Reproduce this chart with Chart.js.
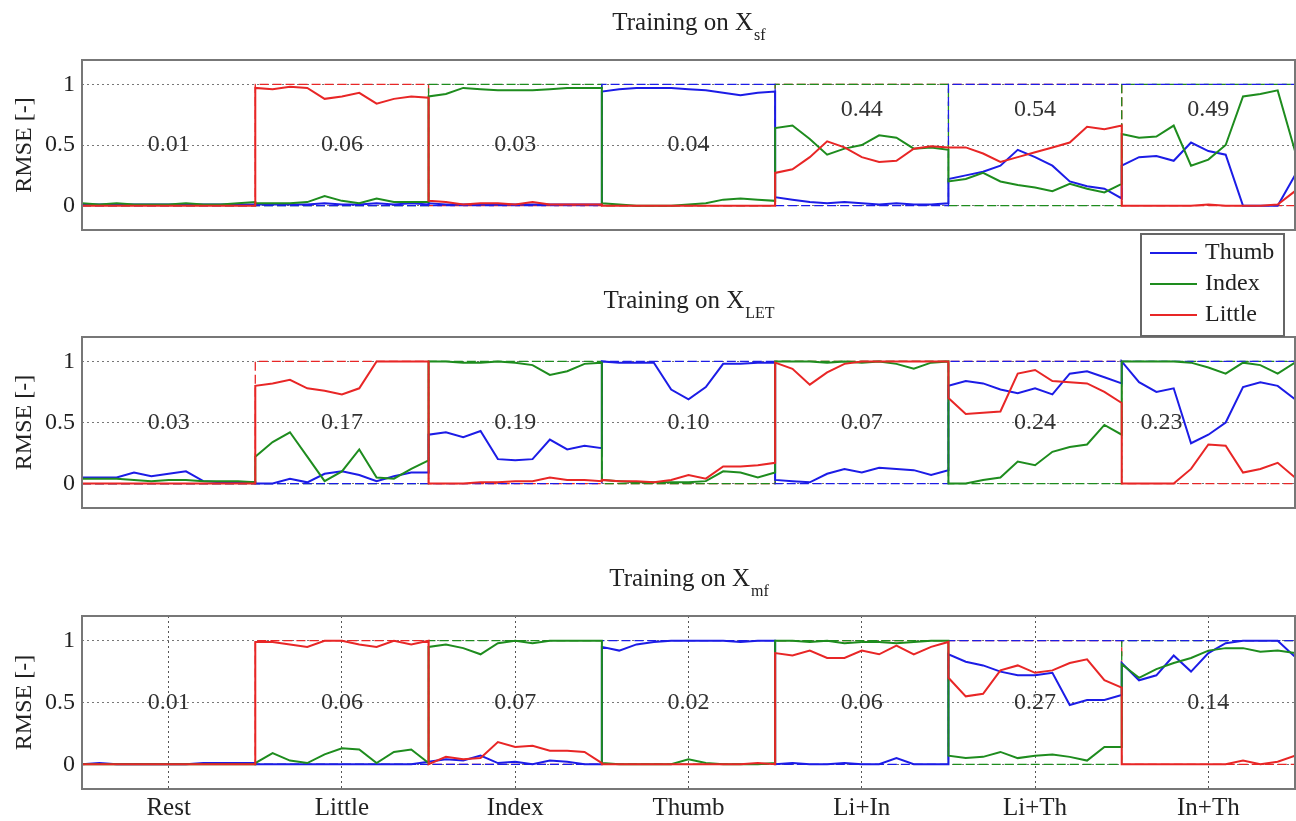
<!DOCTYPE html>
<html>
<head>
<meta charset="utf-8">
<script src="https://cdn.jsdelivr.net/npm/chart.js@4.4.1/dist/chart.umd.min.js"></script>
<style>
  body { margin: 0; background: #fff; }
  #wrap { position: relative; width: 1296px; height: 821px; }
  canvas { position: absolute; left: 0; }
</style>
</head>
<body>
<div id="wrap">
  <canvas id="sfChart" width="1296" height="234" style="top:0px"></canvas>
  <canvas id="letChart" width="1296" height="290" style="top:230px"></canvas>
  <canvas id="mfChart" width="1296" height="281" style="top:540px"></canvas>
</div>
<script>
const segments = ['Rest', 'Little', 'Index', 'Thumb', 'Li+In', 'Li+Th', 'In+Th'];

// reference (1 = finger active in that movement)
const targetThumb  = [0, 0, 0, 1, 0, 1, 1];
const targetIndex  = [0, 0, 1, 0, 1, 0, 1];
const targetLittle = [0, 1, 0, 0, 1, 1, 0];

// Training on X_sf
const sfRmse = ['0.01', '0.06', '0.03', '0.04', '0.44', '0.54', '0.49'];
const sfThumb = [
  [0.01, 0.01, 0.01, 0.01, 0.01, 0.01, 0.01, 0.01, 0.01, 0.01, 0.01],
  [0.01, 0.01, 0.01, 0.01, 0.02, 0.01, 0.01, 0.02, 0.01, 0.02, 0.01],
  [0.02, 0.01, 0.01, 0.01, 0.01, 0.01, 0.01, 0.01, 0.01, 0.01, 0.01],
  [0.94, 0.96, 0.97, 0.97, 0.97, 0.96, 0.95, 0.93, 0.91, 0.93, 0.94],
  [0.07, 0.05, 0.03, 0.02, 0.03, 0.02, 0.01, 0.02, 0.01, 0.01, 0.02],
  [0.22, 0.25, 0.28, 0.33, 0.46, 0.40, 0.33, 0.20, 0.16, 0.14, 0.06],
  [0.33, 0.40, 0.41, 0.37, 0.52, 0.45, 0.42, 0.00, 0.00, 0.00, 0.25]
];
const sfIndex = [
  [0.02, 0.01, 0.02, 0.01, 0.01, 0.01, 0.02, 0.01, 0.01, 0.02, 0.03],
  [0.02, 0.02, 0.02, 0.03, 0.08, 0.04, 0.02, 0.06, 0.03, 0.03, 0.03],
  [0.90, 0.92, 0.97, 0.96, 0.95, 0.95, 0.95, 0.96, 0.97, 0.97, 0.97],
  [0.02, 0.01, 0.00, 0.00, 0.00, 0.01, 0.02, 0.05, 0.06, 0.05, 0.04],
  [0.64, 0.66, 0.55, 0.42, 0.47, 0.50, 0.58, 0.56, 0.47, 0.48, 0.46],
  [0.20, 0.22, 0.27, 0.20, 0.17, 0.15, 0.12, 0.18, 0.14, 0.11, 0.18],
  [0.59, 0.56, 0.57, 0.66, 0.33, 0.38, 0.50, 0.90, 0.92, 0.95, 0.45]
];
const sfLittle = [
  [0.00, 0.00, 0.00, 0.00, 0.00, 0.00, 0.00, 0.00, 0.00, 0.00, 0.00],
  [0.97, 0.96, 0.98, 0.97, 0.88, 0.90, 0.93, 0.84, 0.88, 0.90, 0.89],
  [0.04, 0.03, 0.01, 0.02, 0.02, 0.01, 0.03, 0.01, 0.01, 0.01, 0.01],
  [0.00, 0.00, 0.00, 0.00, 0.00, 0.00, 0.00, 0.00, 0.00, 0.00, 0.00],
  [0.27, 0.30, 0.40, 0.53, 0.48, 0.40, 0.36, 0.37, 0.47, 0.49, 0.48],
  [0.48, 0.48, 0.43, 0.36, 0.40, 0.44, 0.48, 0.52, 0.65, 0.63, 0.66],
  [0.00, 0.00, 0.00, 0.00, 0.00, 0.01, 0.00, 0.00, 0.00, 0.01, 0.12]
];

// Training on X_LET
const letRmse = ['0.03', '0.17', '0.19', '0.10', '0.07', '0.24', '0.23'];
const letThumb = [
  [0.05, 0.05, 0.05, 0.09, 0.06, 0.08, 0.10, 0.02, 0.01, 0.01, 0.01],
  [0.00, 0.00, 0.04, 0.01, 0.08, 0.10, 0.07, 0.02, 0.06, 0.09, 0.09],
  [0.40, 0.42, 0.38, 0.43, 0.20, 0.19, 0.20, 0.36, 0.28, 0.31, 0.29],
  [1.00, 0.99, 0.99, 0.99, 0.77, 0.69, 0.79, 0.98, 0.98, 0.99, 0.99],
  [0.03, 0.02, 0.01, 0.08, 0.12, 0.09, 0.13, 0.12, 0.11, 0.07, 0.11],
  [0.80, 0.84, 0.82, 0.77, 0.74, 0.78, 0.73, 0.90, 0.92, 0.87, 0.82],
  [1.00, 0.83, 0.75, 0.78, 0.33, 0.40, 0.50, 0.79, 0.83, 0.80, 0.69]
];
const letIndex = [
  [0.04, 0.04, 0.04, 0.03, 0.02, 0.03, 0.03, 0.02, 0.02, 0.02, 0.01],
  [0.22, 0.34, 0.42, 0.22, 0.02, 0.10, 0.28, 0.05, 0.04, 0.12, 0.19],
  [1.00, 1.00, 0.99, 0.99, 1.00, 0.99, 0.97, 0.89, 0.92, 0.98, 0.99],
  [0.03, 0.02, 0.01, 0.01, 0.01, 0.01, 0.02, 0.10, 0.09, 0.05, 0.09],
  [1.00, 1.00, 1.00, 0.99, 1.00, 0.99, 1.00, 0.98, 0.94, 0.99, 1.00],
  [0.00, 0.00, 0.03, 0.05, 0.18, 0.15, 0.26, 0.30, 0.32, 0.48, 0.40],
  [1.00, 1.00, 1.00, 1.00, 0.99, 0.95, 0.90, 0.99, 0.97, 0.90, 0.99]
];
const letLittle = [
  [0.00, 0.00, 0.00, 0.00, 0.00, 0.00, 0.00, 0.00, 0.00, 0.00, 0.00],
  [0.80, 0.82, 0.85, 0.78, 0.76, 0.73, 0.78, 1.00, 1.00, 1.00, 1.00],
  [0.00, 0.00, 0.00, 0.01, 0.01, 0.02, 0.02, 0.05, 0.03, 0.03, 0.02],
  [0.03, 0.02, 0.02, 0.01, 0.03, 0.07, 0.04, 0.14, 0.14, 0.15, 0.17],
  [0.99, 0.94, 0.81, 0.91, 0.98, 1.00, 1.00, 1.00, 1.00, 1.00, 1.00],
  [0.70, 0.57, 0.58, 0.59, 0.90, 0.93, 0.84, 0.83, 0.82, 0.75, 0.66],
  [0.00, 0.00, 0.00, 0.00, 0.12, 0.32, 0.31, 0.09, 0.12, 0.17, 0.05]
];

// Training on X_mf
const mfRmse = ['0.01', '0.06', '0.07', '0.02', '0.06', '0.27', '0.14'];
const mfThumb = [
  [0.00, 0.01, 0.00, 0.00, 0.00, 0.00, 0.00, 0.01, 0.01, 0.01, 0.01],
  [0.00, 0.00, 0.00, 0.00, 0.00, 0.00, 0.00, 0.00, 0.00, 0.00, 0.02],
  [0.02, 0.04, 0.03, 0.07, 0.01, 0.02, 0.00, 0.03, 0.02, 0.00, 0.00],
  [0.95, 0.92, 0.97, 0.99, 1.00, 1.00, 1.00, 1.00, 0.99, 1.00, 1.00],
  [0.00, 0.01, 0.00, 0.00, 0.01, 0.00, 0.00, 0.05, 0.00, 0.00, 0.00],
  [0.89, 0.83, 0.80, 0.75, 0.72, 0.72, 0.74, 0.48, 0.52, 0.52, 0.56],
  [0.82, 0.68, 0.72, 0.88, 0.75, 0.90, 0.98, 1.00, 1.00, 1.00, 0.87]
];
const mfIndex = [
  [0.00, 0.00, 0.00, 0.00, 0.00, 0.00, 0.00, 0.00, 0.00, 0.00, 0.00],
  [0.01, 0.09, 0.03, 0.01, 0.08, 0.13, 0.12, 0.01, 0.10, 0.12, 0.01],
  [0.95, 0.97, 0.94, 0.89, 0.98, 1.00, 0.98, 1.00, 1.00, 1.00, 1.00],
  [0.01, 0.00, 0.00, 0.00, 0.00, 0.04, 0.01, 0.00, 0.00, 0.00, 0.01],
  [1.00, 1.00, 0.99, 1.00, 0.98, 0.99, 0.99, 0.98, 0.99, 1.00, 1.00],
  [0.07, 0.05, 0.06, 0.10, 0.05, 0.07, 0.08, 0.06, 0.03, 0.14, 0.14],
  [0.81, 0.70, 0.77, 0.82, 0.86, 0.92, 0.94, 0.94, 0.91, 0.92, 0.90]
];
const mfLittle = [
  [0.00, 0.00, 0.00, 0.00, 0.00, 0.00, 0.00, 0.00, 0.00, 0.00, 0.00],
  [0.99, 0.99, 0.97, 0.95, 1.00, 1.00, 0.97, 0.95, 1.00, 0.97, 1.00],
  [0.00, 0.06, 0.04, 0.05, 0.18, 0.14, 0.15, 0.11, 0.11, 0.10, 0.01],
  [0.00, 0.00, 0.00, 0.00, 0.00, 0.00, 0.00, 0.00, 0.00, 0.01, 0.00],
  [0.90, 0.88, 0.92, 0.86, 0.86, 0.92, 0.89, 0.96, 0.89, 0.95, 0.99],
  [0.70, 0.55, 0.57, 0.76, 0.80, 0.74, 0.76, 0.82, 0.85, 0.68, 0.62],
  [0.00, 0.00, 0.00, 0.00, 0.00, 0.00, 0.00, 0.03, 0.00, 0.02, 0.07]
];

const FAMILY = '"Liberation Serif", "Times New Roman", serif';
const colors = { Thumb: '#1c1ce6', Index: '#1e8c1e', Little: '#e82626' };
const fingerOrder = { Thumb: 3, Index: 2, Little: 1 };

// each movement is one unit wide on x; points spread evenly inside it
function toPoints(segs) {
    const pts = [];
    segs.forEach((vals, i) => {
        vals.forEach((v, j) => pts.push({ x: i + j / (vals.length - 1), y: v }));
    });
    return pts;
}

function targetPoints(t) {
    const pts = [];
    t.forEach((v, i) => { pts.push({ x: i, y: v }); pts.push({ x: i + 1, y: v }); });
    return pts;
}

const panels = [
    {
        id: 'sfChart', sub: 'sf', rmse: sfRmse,
        labelX: [0.5, 1.5, 2.5, 3.5, 4.5, 5.5, 6.5],
        labelY: [0.5, 0.5, 0.5, 0.5, 0.79, 0.79, 0.79],
        series: { Thumb: sfThumb, Index: sfIndex, Little: sfLittle },
        padTop: 60, padBottom: 4, titleY: 30, xAxis: false, legend: false
    },
    {
        id: 'letChart', sub: 'LET', rmse: letRmse,
        labelX: [0.5, 1.5, 2.5, 3.5, 4.5, 5.5, 6.23],
        labelY: [0.5, 0.5, 0.5, 0.5, 0.5, 0.5, 0.5],
        series: { Thumb: letThumb, Index: letIndex, Little: letLittle },
        padTop: 107, padBottom: 12, titleY: 78, xAxis: false, legend: true
    },
    {
        id: 'mfChart', sub: 'mf', rmse: mfRmse,
        labelX: [0.5, 1.5, 2.5, 3.5, 4.5, 5.5, 6.5],
        labelY: [0.5, 0.5, 0.5, 0.5, 0.5, 0.5, 0.5],
        series: { Thumb: mfThumb, Index: mfIndex, Little: mfLittle },
        padTop: 76, padBottom: 0, titleY: 46, xAxis: true, legend: false
    }
];

const targets = { Thumb: targetThumb, Index: targetIndex, Little: targetLittle };

function buildChart(p) {
    const datasets = [];
    Object.keys(p.series).forEach(f => {
        datasets.push({
            label: f + ' target', isTarget: true,
            data: targetPoints(targets[f]),
            borderColor: colors[f], borderWidth: 1.3, borderDash: [9, 4],
            pointRadius: 0, order: 10
        });
        datasets.push({
            label: f,
            data: toPoints(p.series[f]),
            borderColor: colors[f], borderWidth: 2,
            pointRadius: 0, tension: 0, order: fingerOrder[f]
        });
    });

    const decor = {
        id: 'decor',
        beforeDatasetsDraw(chart) {
            const ctx = chart.ctx;
            const xs = chart.scales.x, ys = chart.scales.y;
            ctx.save();
            ctx.font = '24px ' + FAMILY;
            ctx.fillStyle = '#333';
            ctx.textAlign = 'center';
            ctx.textBaseline = 'middle';
            p.rmse.forEach((t, i) => {
                ctx.fillText(t, xs.getPixelForValue(p.labelX[i]), ys.getPixelForValue(p.labelY[i]));
            });
            ctx.restore();
        },
        afterDraw(chart) {
            const ctx = chart.ctx;
            const a = chart.chartArea;
            ctx.save();
            // axes box
            ctx.strokeStyle = '#777';
            ctx.lineWidth = 2;
            ctx.strokeRect(a.left, a.top, a.right - a.left, a.bottom - a.top);

            // title with subscript
            const main = 'Training on X';
            ctx.fillStyle = '#222';
            ctx.textBaseline = 'alphabetic';
            ctx.textAlign = 'left';
            ctx.font = '25px ' + FAMILY;
            const w1 = ctx.measureText(main).width;
            ctx.font = '16px ' + FAMILY;
            const w2 = ctx.measureText(p.sub).width;
            const x0 = (a.left + a.right) / 2 - (w1 + w2) / 2;
            ctx.font = '25px ' + FAMILY;
            ctx.fillText(main, x0, p.titleY);
            ctx.font = '16px ' + FAMILY;
            ctx.fillText(p.sub, x0 + w1 + 1, p.titleY + 10);

            if (p.legend) {
                const lx = 1141, ly = 4, lw = 143, lh = 102;
                ctx.fillStyle = '#fff';
                ctx.fillRect(lx, ly, lw, lh);
                ctx.strokeStyle = '#666';
                ctx.lineWidth = 2;
                ctx.strokeRect(lx, ly, lw, lh);
                const items = chart.data.datasets.filter(d => !d.isTarget);
                ctx.font = '24px ' + FAMILY;
                ctx.textBaseline = 'middle';
                items.forEach((d, i) => {
                    const y = ly + 19 + i * 31;
                    ctx.strokeStyle = d.borderColor;
                    ctx.lineWidth = 2;
                    ctx.beginPath();
                    ctx.moveTo(lx + 9, y);
                    ctx.lineTo(lx + 56, y);
                    ctx.stroke();
                    ctx.fillStyle = '#222';
                    ctx.fillText(d.label, lx + 64, y);
                });
            }
            ctx.restore();
        }
    };

    const xScale = p.xAxis ? {
        type: 'linear', min: 0, max: 7,
        afterBuildTicks: s => { s.ticks = segments.map((_, i) => ({ value: i + 0.5 })); },
        afterFit: s => { s.height = 32; },
        ticks: {
            autoSkip: false, maxRotation: 0, padding: 4, color: '#222',
            font: { family: FAMILY, size: 25 },
            callback: v => segments[Math.floor(v)]
        },
        grid: { color: '#555', lineWidth: 1, drawTicks: false },
        border: { display: false, dash: [2, 3] }
    } : { type: 'linear', min: 0, max: 7, display: false };

    new Chart(document.getElementById(p.id), {
        type: 'line',
        data: { datasets },
        options: {
            responsive: false,
            animation: false,
            layout: { padding: { top: p.padTop, bottom: p.padBottom, left: 0, right: 1 } },
            plugins: { legend: { display: false }, tooltip: { enabled: false }, title: { display: false } },
            scales: {
                x: xScale,
                y: {
                    min: -0.2, max: 1.2,
                    afterBuildTicks: s => { s.ticks = [{ value: 0 }, { value: 0.5 }, { value: 1 }]; },
                    afterFit: s => { s.width = 82; s.paddingTop = 0; s.paddingBottom = 0; },
                    ticks: { padding: 7, color: '#222', font: { family: FAMILY, size: 24 }, callback: v => String(v) },
                    grid: { color: '#777', lineWidth: 1, drawTicks: false },
                    border: { display: false, dash: [2, 3] },
                    title: {
                        display: true, text: 'RMSE [-]', color: '#222',
                        font: { family: FAMILY, size: 24 },
                        padding: { top: 10, bottom: 0 }
                    }
                }
            }
        },
        plugins: [decor]
    });
}

panels.forEach(buildChart);
</script>
</body>
</html>
